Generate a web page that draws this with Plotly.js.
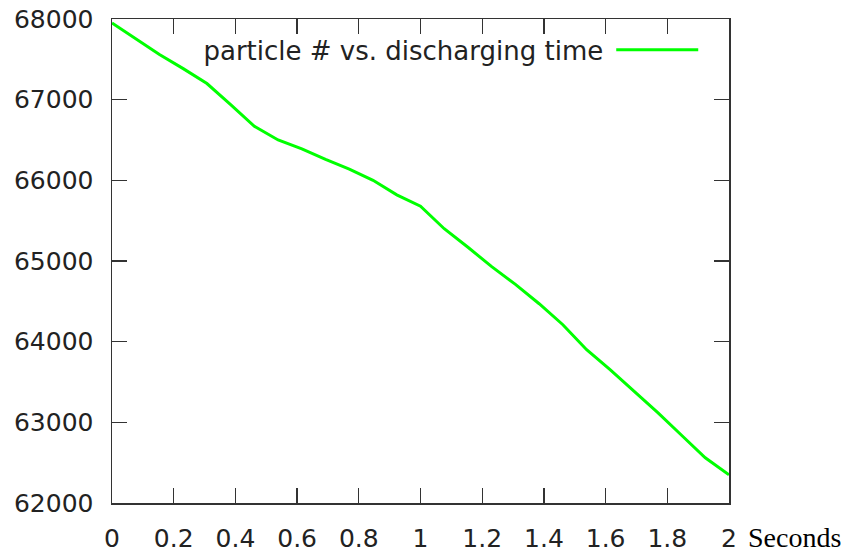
<!DOCTYPE html>
<html>
<head>
<meta charset="utf-8">
<script src="https://cdn.plot.ly/plotly-3.0.1.min.js"></script>
<style>html,body{margin:0;padding:0;background:#fff;}#chart{width:850px;height:552px;}</style>
</head>
<body>
<div id="chart"></div>
<script>
var seriesName = "particle # vs. discharging time";
var timeSeconds = [0, 0.0769, 0.1538, 0.2308, 0.3077, 0.3846, 0.4615, 0.5385, 0.6154, 0.6923,
  0.7692, 0.8462, 0.9231, 1.0, 1.0769, 1.1538, 1.2308, 1.3077, 1.3846, 1.4615,
  1.5385, 1.6154, 1.6923, 1.7692, 1.8462, 1.9231, 2.0];
var particleCount = [67950, 67760, 67560, 67385, 67200, 66940, 66670, 66500, 66390, 66260,
  66140, 66000, 65820, 65680, 65400, 65170, 64930, 64710, 64470, 64210,
  63900, 63650, 63390, 63120, 62840, 62560, 62350];
var xTickVals = [0, 0.2, 0.4, 0.6, 0.8, 1, 1.2, 1.4, 1.6, 1.8, 2];
var xTickText = ["0", "0.2", "0.4", "0.6", "0.8", "1", "1.2", "1.4", "1.6", "1.8", "2"];
var yTickVals = [62000, 63000, 64000, 65000, 66000, 67000, 68000];
var yTickText = ["62000", "63000", "64000", "65000", "66000", "67000", "68000"];
var xUnit = "Seconds";

var trace = {
  x: timeSeconds,
  y: particleCount,
  type: "scatter",
  mode: "lines",
  name: "",
  line: {color: "#00ff00", width: 3},
  showlegend: true,
  hoverinfo: "x+y"
};

var axisCommon = {
  showline: true,
  mirror: "allticks",
  ticks: "inside",
  ticklen: 15,
  tickwidth: 1.3,
  tickcolor: "#333",
  linecolor: "#333",
  linewidth: 1.5,
  showgrid: false,
  zeroline: false,
  tickmode: "array",
  tickfont: {family: "DejaVu Sans", size: 25, color: "#222"}
};

var layout = {
  width: 850,
  height: 552,
  margin: {l: 112, r: 121, t: 19, b: 49, pad: 0},
  paper_bgcolor: "#fff",
  plot_bgcolor: "#fff",
  showlegend: true,
  xaxis: Object.assign({}, axisCommon, {
    range: [0, 2],
    tickvals: xTickVals,
    ticktext: xTickText,
    ticklabelstandoff: 12
  }),
  yaxis: Object.assign({}, axisCommon, {
    range: [62000, 68000],
    tickvals: yTickVals,
    ticktext: yTickText,
    ticklabelstandoff: 12
  }),
  legend: {
    x: 0.145,
    y: 0.985,
    xanchor: "left",
    yanchor: "top",
    bgcolor: "rgba(0,0,0,0)",
    borderwidth: 0,
    itemwidth: 82,
    font: {family: "DejaVu Sans", size: 26, color: "#222"},
    title: {text: seriesName, side: "left", font: {family: "DejaVu Sans", size: 26, color: "#222"}}
  },
  annotations: [{
    text: xUnit,
    xref: "paper", yref: "paper",
    x: 1, y: 0,
    xanchor: "left", yanchor: "top",
    xshift: 18, yshift: -18,
    showarrow: false,
    borderpad: 0,
    font: {family: "Liberation Serif", size: 28, color: "#000"}
  }]
};

Plotly.newPlot("chart", [trace], layout, {displayModeBar: false, staticPlot: true});
</script>
</body>
</html>
